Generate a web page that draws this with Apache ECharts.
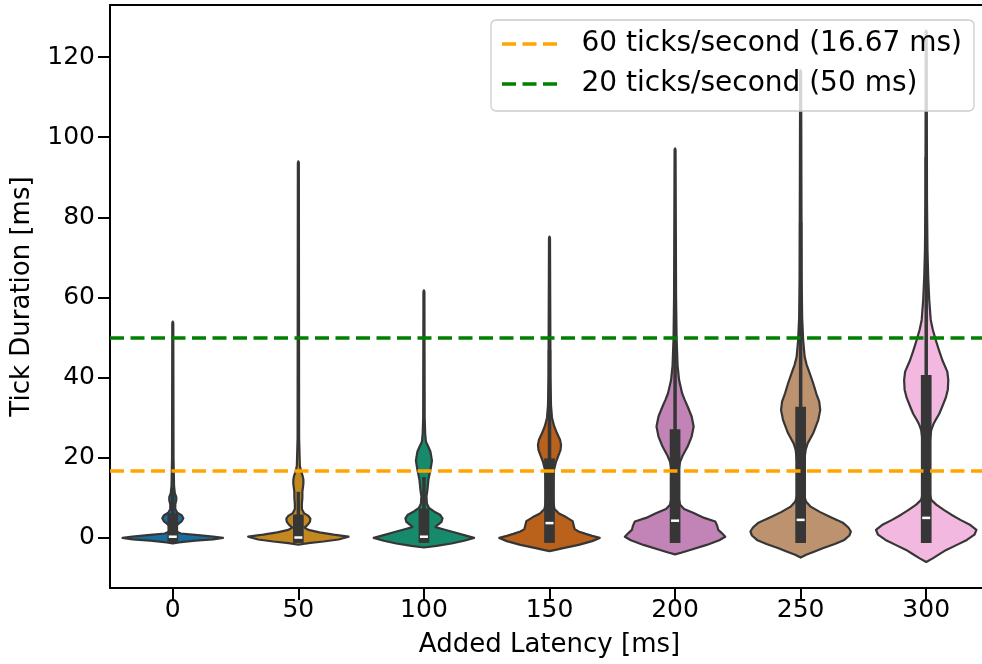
<!DOCTYPE html>
<html><head><meta charset="utf-8">
<script src="https://cdn.jsdelivr.net/npm/echarts@6/dist/echarts.min.js"></script>
<style>html,body{margin:0;padding:0;background:#fff}#c{width:982px;height:664px}</style>
</head><body><div id="c"></div>
<script>
// ---- data ----
const categories = ['0', '50', '100', '150', '200', '250', '300'];
const yTicks = [0, 20, 40, 60, 80, 100, 120];
const refLabel60 = '60 ticks/second (16.67 ms)';
const refLabel20 = '20 ticks/second (50 ms)';
const refValue60 = 16.67;
const refValue20 = 50;

// violin profiles: [tick duration (ms), relative half-width]
const profile0 = [[-1.4,0],[-1.1,0.12],[-0.7,0.45],[-0.35,0.8],[0,1.0],[0.35,0.8],[0.7,0.5],[1.1,0.16],[1.6,0.07],[2.6,0.06],[3.4,0.1],[4.2,0.18],[4.9,0.21],[5.6,0.18],[6.3,0.09],[7.2,0.05],[8.4,0.05],[9.4,0.07],[10.2,0.07],[11.2,0.04],[13,0.025],[20,0.015],[53.6,0.01],[54,0]];
const profile50 = [[-1.7,0],[-1.3,0.2],[-0.9,0.5],[-0.4,0.8],[0.3,1.0],[0.8,0.7],[1.4,0.42],[2.0,0.2],[2.6,0.12],[3.2,0.18],[4.0,0.23],[4.8,0.24],[5.5,0.2],[6.2,0.11],[7.2,0.07],[8.5,0.07],[10,0.08],[11.5,0.08],[12.5,0.09],[13.5,0.1],[14.5,0.1],[15.5,0.085],[16.8,0.05],[18,0.03],[25,0.015],[93.6,0.01],[94,0]];
const profile100 = [[-2.4,0],[-2.0,0.25],[-1.4,0.55],[-0.7,0.8],[0,1.0],[0.7,0.8],[1.4,0.6],[2.1,0.4],[2.7,0.23],[3.2,0.27],[4.0,0.35],[4.9,0.37],[5.8,0.32],[6.6,0.2],[7.5,0.1],[8.5,0.06],[10.3,0.05],[12,0.07],[14.6,0.09],[17,0.13],[19.3,0.16],[21.5,0.13],[22.7,0.09],[24,0.04],[26,0.025],[30,0.015],[61.4,0.01],[61.8,0]];
const profile150 = [[-3.3,0],[-3.0,0.12],[-2.6,0.25],[-1.75,0.58],[-0.8,0.85],[0,1.0],[0.5,0.85],[1.0,0.72],[1.6,0.58],[2.2,0.5],[3.2,0.48],[4.2,0.46],[5.2,0.33],[6.1,0.19],[7.2,0.1],[8.5,0.08],[10,0.07],[14,0.07],[17,0.09],[19,0.13],[20.3,0.17],[22,0.22],[23.2,0.23],[24.5,0.21],[26.1,0.15],[28,0.09],[30,0.05],[33,0.03],[40,0.02],[74.8,0.01],[75.2,0]];
const profile200 = [[-4.1,0],[-3.7,0.12],[-3.0,0.3],[-1.75,0.63],[-0.6,0.88],[0.3,1.0],[1.2,0.93],[2.0,0.86],[3.0,0.84],[4.1,0.8],[5.0,0.58],[6.2,0.37],[7.2,0.18],[8.3,0.1],[10,0.07],[14,0.06],[17,0.07],[19,0.1],[20.5,0.15],[22.8,0.25],[25.3,0.33],[27.8,0.37],[30.3,0.33],[32.8,0.25],[34.5,0.19],[36.1,0.14],[39.4,0.08],[43,0.05],[50,0.03],[60,0.02],[96.8,0.01],[97.2,0]];
const profile250 = [[-4.9,0],[-4.2,0.11],[-3.4,0.28],[-2.6,0.44],[-1.5,0.68],[-0.5,0.87],[0.6,0.97],[1.6,1.0],[2.6,0.95],[3.7,0.85],[4.5,0.72],[5.3,0.58],[6.5,0.38],[7.8,0.2],[9.0,0.11],[10.5,0.07],[15,0.06],[19,0.07],[22,0.1],[23.6,0.14],[26.1,0.25],[29.4,0.35],[31.9,0.39],[34,0.37],[36.1,0.31],[38.6,0.25],[41.1,0.18],[43.2,0.12],[45.2,0.08],[49.4,0.05],[55,0.03],[65,0.02],[116.3,0.01],[116.7,0]];
const profile300 = [[-6.0,0],[-5.1,0.13],[-4.0,0.27],[-3.0,0.4],[-1.8,0.6],[-0.5,0.81],[0.8,0.96],[2.0,1.0],[3.2,0.88],[4.5,0.68],[5.8,0.5],[7.0,0.35],[8.3,0.2],[9.5,0.1],[11,0.07],[18,0.06],[24,0.07],[26.9,0.1],[28.3,0.14],[29.5,0.19],[31,0.26],[32.8,0.32],[35,0.39],[37,0.43],[39.4,0.44],[41.5,0.42],[44.4,0.32],[47,0.25],[49.4,0.19],[52,0.13],[54.4,0.09],[59.4,0.06],[65,0.04],[72,0.025],[85,0.015],[126.2,0.01],[126.6,0]];

// inner box statistics
const medians = [0.3, 0.1, 0.3, 3.7, 4.3, 4.5, 5.0];
const q1s = [0, 0, 0, 0, 0, 0, 0];
const q3s = [4.9, 4.6, 6.1, 18.6, 25.9, 31.5, 39.4];
const whiskerHigh = [12.5, 11.5, 15.2, 46.9, 64.9, 78.8, 95.0];

const violinColors = ['#176D9C', '#C38820', '#168A6A', '#BA611B', '#C283B6', '#BD926E', '#F2B8E0'];
const profiles = [profile0, profile50, profile100, profile150, profile200, profile250, profile300];

// ---- chart ----
const FONT = 'DejaVu Sans';
const DARK = '#363636';
const chart = echarts.init(document.getElementById('c'), null, { renderer: 'canvas' });

function renderViolin(params, api) {
  const i = api.value(0);
  const cx = api.coord([i, 0])[0];
  const band = api.size([1, 0])[0];
  const hw = band * 0.4;
  const prof = profiles[i];
  const right = prof.map(p => [cx + p[1] * hw, api.coord([i, p[0]])[1]]);
  const left = prof.map(p => [cx - p[1] * hw, api.coord([i, p[0]])[1]]).reverse();
  const yQ1 = api.coord([i, q1s[i]])[1];
  const yQ3 = api.coord([i, q3s[i]])[1];
  const yWh = api.coord([i, whiskerHigh[i]])[1];
  const yMed = api.coord([i, medians[i]])[1];
  const boxW = 10.7, capExt = 5;
  return {
    type: 'group',
    children: [
      { type: 'polygon', shape: { points: right.concat(left) },
        style: { fill: violinColors[i], stroke: DARK, lineWidth: 2.2, lineJoin: 'round' } },
      { type: 'line', shape: { x1: cx, y1: yQ1, x2: cx, y2: yWh },
        style: { stroke: DARK, lineWidth: 3.5 } },
      { type: 'rect', shape: { x: cx - boxW / 2, y: yQ3 - capExt, width: boxW, height: (yQ1 + capExt) - (yQ3 - capExt) },
        style: { fill: DARK } },
      { type: 'rect', shape: { x: cx - 4, y: yMed - 1.25, width: 8, height: 2.5 },
        style: { fill: '#ffffff' } }
    ]
  };
}

const dashStyle = (c) => ({ color: c, width: 3.6, type: [14, 6.5] });
const dashIcon = 'path://M0,0h14v3.6h-14z M20.5,0h14v3.6h-14z M41,0h14v3.6h-14z';

const axisFont = { color: '#000', fontSize: 25, fontFamily: FONT };
const nameFont = { color: '#000', fontSize: 26, fontFamily: FONT };

const option = {
  animation: false,
  backgroundColor: '#ffffff',
  textStyle: { fontFamily: FONT },
  grid: { left: 110, top: 5, right: -7, bottom: 76, show: false, containLabel: false, outerBoundsMode: 'none' },
  legend: {
    left: 491, top: 20, orient: 'vertical',
    itemWidth: 56, itemHeight: 3.6, itemGap: 12,
    padding: [10, 12, 13, 11],
    backgroundColor: 'rgba(255,255,255,0.8)', borderColor: '#cccccc', borderWidth: 1.3, borderRadius: 5,
    selectedMode: false, icon: dashIcon,
    textStyle: { fontFamily: FONT, fontSize: 28, color: '#000', lineHeight: 28, padding: [0, 0, 0, 19] },
    data: [refLabel60, refLabel20]
  },
  xAxis: [{
    type: 'category', data: categories, boundaryGap: true, position: 'bottom',
    axisLine: { show: true, onZero: false, lineStyle: { color: '#000', width: 2 } },
    axisTick: { show: true, alignWithLabel: true, length: 12, lineStyle: { color: '#000', width: 2 } },
    axisLabel: Object.assign({ margin: 10 }, axisFont),
    splitLine: { show: false },
    name: 'Added Latency [ms]', nameLocation: 'middle', nameGap: 44, nameTextStyle: nameFont
  }, {
    type: 'category', data: categories, boundaryGap: true, position: 'top',
    axisLine: { show: true, onZero: false, lineStyle: { color: '#000', width: 2 } },
    axisTick: { show: false }, axisLabel: { show: false }, splitLine: { show: false }
  }],
  yAxis: {
    type: 'value', min: -12.5, max: 133,
    axisLine: { show: true, onZero: false, lineStyle: { color: '#000', width: 2 } },
    axisTick: { show: true, length: 12, customValues: yTicks, lineStyle: { color: '#000', width: 2 } },
    axisLabel: Object.assign({ customValues: yTicks, margin: 15 }, axisFont),
    splitLine: { show: false },
    name: 'Tick Duration [ms]', nameLocation: 'middle', nameGap: 75, nameRotate: 90, nameTextStyle: nameFont
  },
  series: [
    { type: 'custom', name: 'violins', renderItem: renderViolin,
      data: categories.map((c, i) => [i, medians[i]]), encode: { x: 0, y: 1 }, z: 2, silent: true },
    { type: 'line', name: refLabel60, data: [], symbol: 'none', color: '#FFA500',
      lineStyle: dashStyle('#FFA500'), z: 5,
      markLine: { silent: true, symbol: ['none', 'none'], label: { show: false }, z: 5,
        lineStyle: dashStyle('#FFA500'), emphasis: { disabled: true }, data: [{ yAxis: refValue60 }] } },
    { type: 'line', name: refLabel20, data: [], symbol: 'none', color: '#008000',
      lineStyle: dashStyle('#008000'), z: 5,
      markLine: { silent: true, symbol: ['none', 'none'], label: { show: false }, z: 5,
        lineStyle: dashStyle('#008000'), emphasis: { disabled: true }, data: [{ yAxis: refValue20 }] } }
  ]
};
chart.setOption(option);
</script>
</body></html>
